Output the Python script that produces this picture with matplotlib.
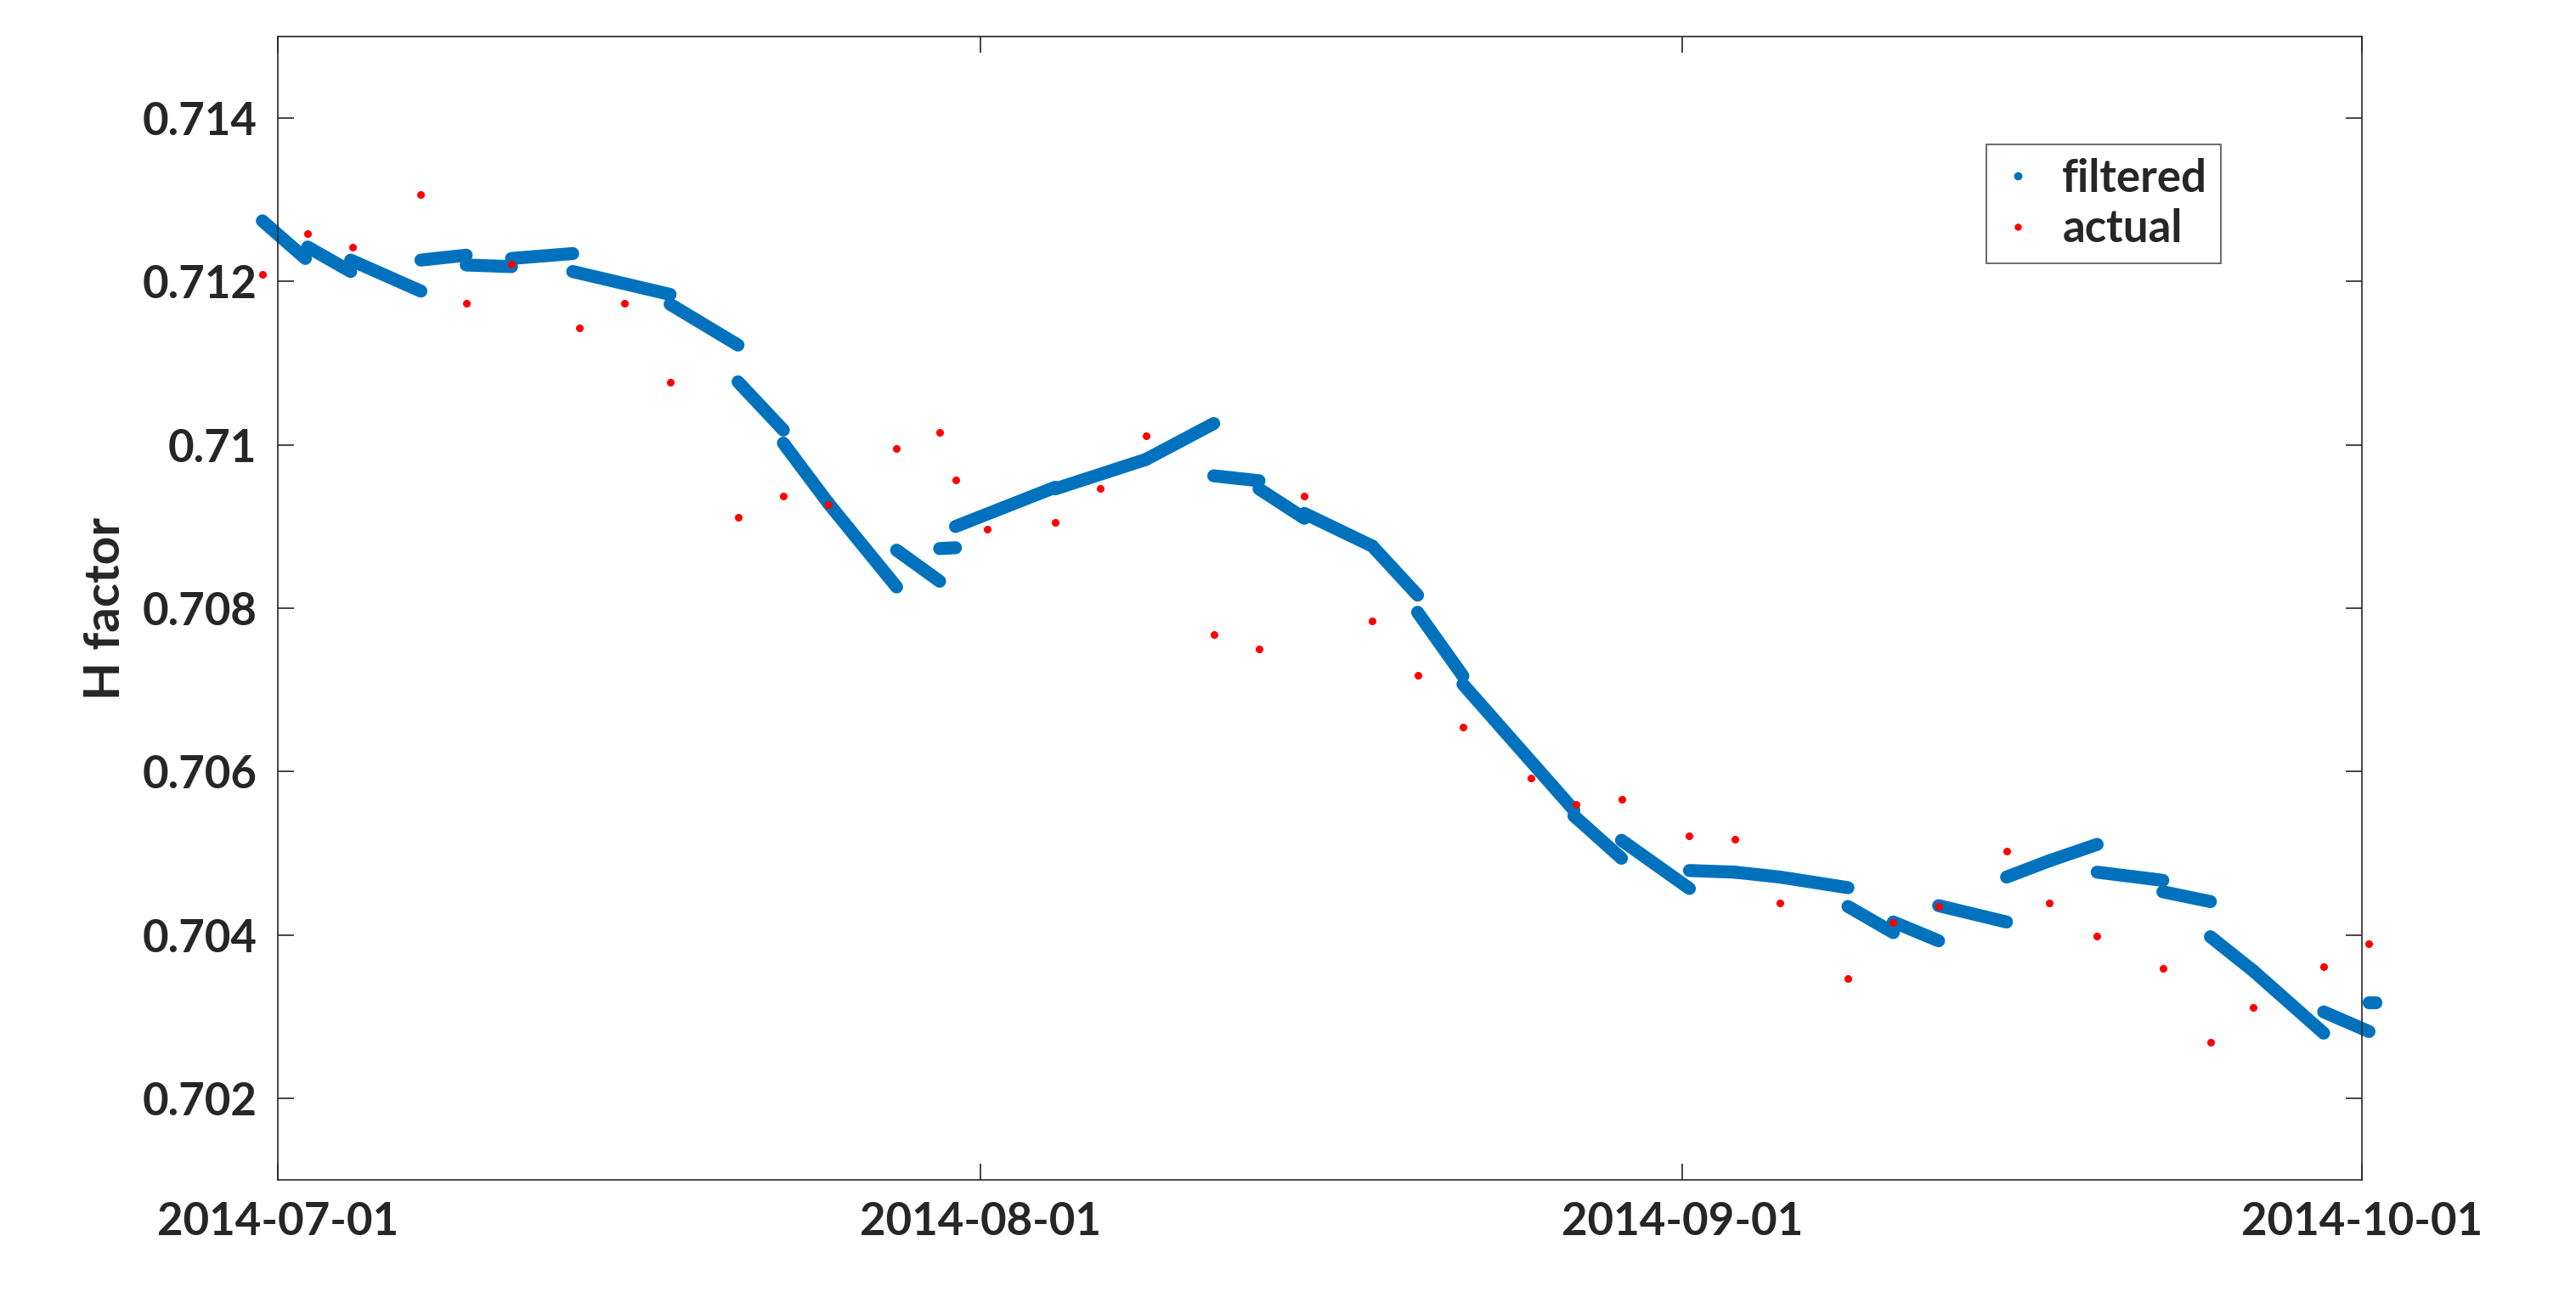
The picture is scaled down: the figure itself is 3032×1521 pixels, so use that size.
import matplotlib
matplotlib.use("Agg")
import matplotlib.pyplot as plt
import numpy as np
import pandas as pd
from matplotlib.lines import Line2D

plt.rcParams["font.family"] = ["Lato", "DejaVu Sans"]
plt.rcParams["font.weight"] = "bold"

START = pd.Timestamp("2014-07-01")

# actual H factor samples (days from 2014-07-01, value)
actual_day = [-0.7, 1.3, 3.3, 6.3, 8.3, 10.3, 13.3, 15.3, 17.3, 20.3, 22.3, 24.3,
              27.3, 29.2, 29.9, 31.3, 34.3, 36.3, 38.3, 41.3, 43.3, 45.3, 48.3,
              50.3, 52.3, 55.3, 57.3, 59.3, 62.3, 64.3, 66.3, 69.3, 71.3, 73.3,
              76.3, 78.2, 80.3, 83.2, 85.3, 87.2, 90.3, 92.3]
actual_val = [0.71209, 0.71258, 0.71242, 0.71306, 0.71173, 0.71221, 0.71143,
              0.71173, 0.71077, 0.70911, 0.70937, 0.70927, 0.70995, 0.71015,
              0.70957, 0.70897, 0.70905, 0.70947, 0.71011, 0.70768, 0.70750,
              0.70937, 0.70784, 0.70718, 0.70654, 0.70592, 0.70560, 0.70566,
              0.70521, 0.70517, 0.70439, 0.70347, 0.70415, 0.70435, 0.70503,
              0.70439, 0.70399, 0.70359, 0.70269, 0.70311, 0.70361, 0.70389]

# filtered estimate, piecewise segments (start day, start value, end day, end value)
seg_d0 = [-0.8, -0.7, 1.3, 3.2, 6.3, 8.3, 10.3, 13.0, 17.3, 20.3, 22.3, 24.3, 27.3,
          29.2, 29.9, 34.3, 38.3, 41.3, 43.3, 45.3, 48.3, 50.3, 52.3, 57.2, 59.3,
          62.3, 64.3, 66.3, 69.3, 71.3, 73.3, 76.3, 78.2, 80.3, 83.2, 85.3, 87.2,
          90.3, 92.3]
seg_v0 = [0.71290, 0.71274, 0.71242, 0.71226, 0.71226, 0.71220, 0.71228, 0.71212,
          0.71172, 0.71077, 0.71002, 0.70928, 0.70871, 0.70873, 0.70900, 0.70946,
          0.70982, 0.70962, 0.70946, 0.70916, 0.70876, 0.70795, 0.70707, 0.70546,
          0.70516, 0.70479, 0.70477, 0.70471, 0.70435, 0.70416, 0.70436, 0.70471,
          0.70491, 0.70477, 0.70453, 0.70398, 0.70356, 0.70306, 0.70318]
seg_d1 = [-0.8, 1.2, 3.2, 6.3, 8.3, 10.3, 13.0, 17.3, 20.3, 22.3, 24.3, 27.3, 29.2,
          29.9, 34.3, 38.3, 41.3, 43.3, 45.3, 48.3, 50.3, 52.3, 57.2, 59.3, 62.3,
          64.3, 66.3, 69.3, 71.3, 73.3, 76.3, 78.2, 80.3, 83.2, 85.3, 87.2, 90.3,
          92.3, 92.6]
seg_v1 = [0.71290, 0.71228, 0.71212, 0.71188, 0.71232, 0.71218, 0.71234, 0.71184,
          0.71122, 0.71018, 0.70928, 0.70826, 0.70833, 0.70874, 0.70948, 0.70982,
          0.71026, 0.70956, 0.70910, 0.70876, 0.70816, 0.70717, 0.70553, 0.70494,
          0.70457, 0.70477, 0.70471, 0.70458, 0.70403, 0.70393, 0.70416, 0.70491,
          0.70511, 0.70467, 0.70441, 0.70356, 0.70280, 0.70282, 0.70318]

yticks = [0.702, 0.704, 0.706, 0.708, 0.71, 0.712, 0.714]
ytick_labels = ["0.702", "0.704", "0.706", "0.708", "0.71", "0.712", "0.714"]
xticks = ["2014-07-01", "2014-08-01", "2014-09-01", "2014-10-01"]

blue = "#0072BD"


def to_date(days):
    return START + pd.to_timedelta(np.asarray(days, dtype=float), unit="D")


fig = plt.figure(figsize=(30.32, 15.21), dpi=100)
ax = fig.add_axes([0.108, 0.0865, 0.809, 0.8855])

for d0, v0, d1, v1 in zip(seg_d0, seg_v0, seg_d1, seg_v1):
    ax.plot(to_date([d0, d1]), [v0, v1], color=blue, lw=11,
            solid_capstyle="round", clip_on=False)

ax.plot(to_date(actual_day), actual_val, ".", color="red", ms=11, clip_on=False)

ax.set_xlim(pd.Timestamp(xticks[0]), pd.Timestamp(xticks[-1]))
ax.set_ylim(0.701, 0.715)
ax.set_xticks([pd.Timestamp(t) for t in xticks])
ax.set_xticklabels(xticks)
ax.set_yticks(yticks)
ax.set_yticklabels(ytick_labels)
ax.tick_params(direction="in", length=14, width=1.2, labelsize=38, pad=18,
               top=True, right=True, colors="#262626")
for s in ax.spines.values():
    s.set_linewidth(1.2)
    s.set_color("#262626")
ax.set_ylabel("H factor", fontsize=42, fontweight="bold", color="#262626", labelpad=12)

handles = [Line2D([], [], ls="none", marker=".", color=blue, ms=12, label="filtered"),
           Line2D([], [], ls="none", marker=".", color="red", ms=10, label="actual")]
leg = ax.legend(handles=handles, loc="upper right", bbox_to_anchor=(0.943, 0.925),
                fontsize=38, frameon=True, fancybox=False, handlelength=0.8,
                handletextpad=0.6, borderpad=0.3, labelspacing=0.2)
leg.get_frame().set_edgecolor("#262626")
leg.get_frame().set_linewidth(1.2)
for t in leg.get_texts():
    t.set_color("#262626")

fig.savefig("out.png", dpi=100)
